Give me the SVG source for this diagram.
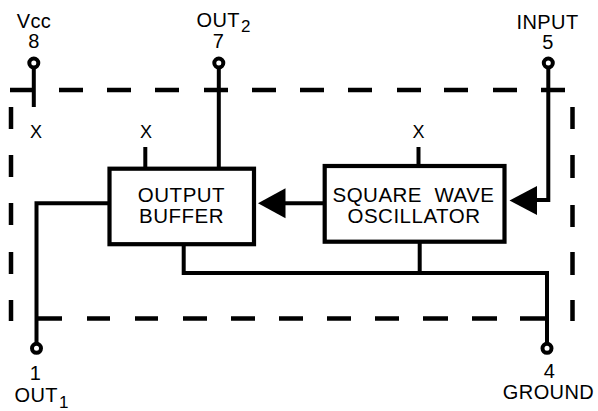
<svg xmlns="http://www.w3.org/2000/svg" width="598" height="411" viewBox="0 0 598 411">
<style>
  .w { fill: none; stroke: #000; stroke-width: 4; stroke-linejoin: miter; stroke-linecap: butt; }
  .box { fill: #fff; stroke: #000; stroke-width: 4.2; }
  .pin { fill: #fff; stroke: #000; stroke-width: 4; }
  .border { fill: none; stroke: #000; stroke-width: 4.5; }
  .lbl { font-family: "Liberation Sans", Arial, sans-serif; font-size: 20px; fill: #000; letter-spacing: 0.4px; }
  .bt { font-family: "Liberation Sans", Arial, sans-serif; font-size: 20.5px; fill: #000; letter-spacing: 0.5px; text-anchor: middle; }
  .x { font-family: "Liberation Sans", Arial, sans-serif; font-size: 18px; fill: #000; text-anchor: middle; }
  .m { text-anchor: middle; }
</style>
<rect width="598" height="411" fill="#fff"/>

<g id="package-border">
  <path class="border" d="M10 90H33 M59 90H83 M107 90H131 M155 90H179 M204 90H228 M252 90H276 M300 90H324 M348 90H372 M397 90H421 M444 90H468 M493 90H517 M541 90H565
    M37 318.5H62 M87 318.5H110 M135 318.5H158 M183 318.5H207 M231 318.5H255 M279 318.5H303 M327 318.5H351 M375 318.5H399 M423 318.5H448 M472 318.5H497 M520 318.5H547
    M11 107V129 M11 155V177 M11 203V225 M11 252V274 M11 300V321
    M572.5 107V129 M572.5 155V178 M572.5 205V227 M572.5 252V275 M572.5 300V321"/>
</g>

<g id="connectors">
  <path class="w" d="M33.8 66V107"/>
  <path class="w" d="M218.8 66V167"/>
  <path class="w" d="M548.3 66V200H535"/>
  <path class="w" d="M145.3 147V167"/>
  <path class="w" d="M418.5 147V164"/>
  <path class="w" d="M284 203.3H323"/>
  <path class="w" d="M108 203.3H36.5V344"/>
  <path class="w" d="M183.7 246V273H547V344"/>
  <path class="w" d="M419.7 243V273"/>
  <polygon points="509.5,200.5 537,186 537,215" fill="#000"/>
  <polygon points="258,203.3 285.5,188.3 285.5,218.3" fill="#000"/>
</g>

<g id="output-buffer">
  <rect class="box" x="109.5" y="168.7" width="144.5" height="75.5"/>
  <text class="bt" x="181.5" y="202">OUTPUT</text>
  <text class="bt" x="181.5" y="223">BUFFER</text>
</g>

<g id="square-wave-oscillator">
  <rect class="box" x="324.7" y="166" width="179.8" height="75.7"/>
  <text class="bt" x="413.5" y="202" xml:space="preserve">SQUARE  WAVE</text>
  <text class="bt" x="414" y="223">OSCILLATOR</text>
</g>

<g id="pin8">
  <circle class="pin" cx="33.8" cy="63" r="4.5"/>
  <text class="lbl m" x="34" y="28">Vcc</text>
  <text class="lbl m" x="34" y="48">8</text>
  <text class="x" x="36" y="138">X</text>
</g>

<g id="pin7">
  <circle class="pin" cx="218.8" cy="63" r="4.5"/>
  <text class="lbl" x="196.5" y="27">OUT<tspan font-size="17" dx="1" dy="5">2</tspan></text>
  <text class="lbl m" x="218.5" y="48">7</text>
</g>

<g id="pin5">
  <circle class="pin" cx="548.3" cy="63" r="4.5"/>
  <text class="lbl m" x="547.5" y="29">INPUT</text>
  <text class="lbl m" x="548" y="49">5</text>
</g>

<g id="nc-buffer">
  <text class="x" x="146" y="138">X</text>
</g>

<g id="nc-oscillator">
  <text class="x" x="418.5" y="138">X</text>
</g>

<g id="pin1">
  <circle class="pin" cx="36.5" cy="348.3" r="4.5"/>
  <text class="lbl m" x="35.5" y="380">1</text>
  <text class="lbl" x="14.5" y="402">OUT<tspan font-size="17" dx="1" dy="6">1</tspan></text>
</g>

<g id="pin4">
  <circle class="pin" cx="547" cy="348.3" r="4.5"/>
  <text class="lbl m" x="549.5" y="378">4</text>
  <text class="lbl m" x="548.5" y="399">GROUND</text>
</g>
</svg>
